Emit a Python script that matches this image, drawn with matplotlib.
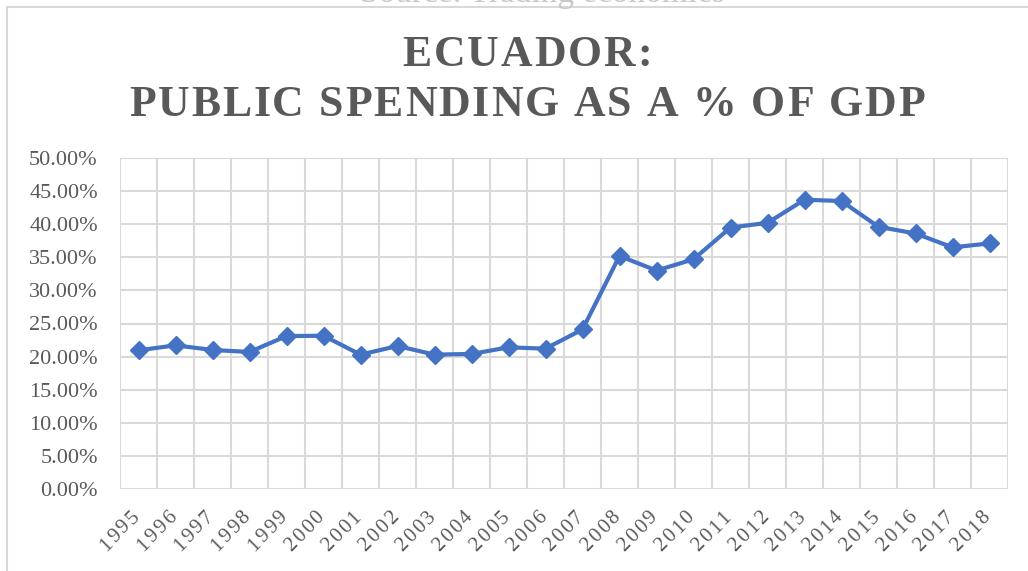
import matplotlib
matplotlib.use("Agg")
import matplotlib.pyplot as plt
import matplotlib.transforms as mtransforms
from matplotlib.patches import Rectangle

years = ["1995", "1996", "1997", "1998", "1999", "2000", "2001", "2002", "2003", "2004", "2005", "2006",
         "2007", "2008", "2009", "2010", "2011", "2012", "2013", "2014", "2015", "2016", "2017", "2018"]
spending = [0.2095, 0.217, 0.210, 0.207, 0.231, 0.2315, 0.203, 0.216, 0.203, 0.204, 0.214, 0.212,
            0.241, 0.352, 0.330, 0.347, 0.395, 0.402, 0.437, 0.435, 0.396, 0.386, 0.365, 0.371]
yticks = [0.0, 0.05, 0.10, 0.15, 0.20, 0.25, 0.30, 0.35, 0.40, 0.45, 0.50]
title_lines = ["ECUADOR:", "PUBLIC SPENDING AS A % OF GDP"]
source_text = "Source: Trading economics"

TXT = "#595959"
GRID = "#D9D9D9"
LINE = "#4472C4"
SERIF = ["Liberation Serif", "DejaVu Serif"]

fig = plt.figure(figsize=(10.28, 5.71), dpi=100)
fig.patch.set_facecolor("white")

# outer chart border
fig.patches.append(Rectangle((7 / 1028, -0.05), 1.2, 1 - 7 / 571 + 0.05, transform=fig.transFigure,
                             fill=False, edgecolor="#D9D9D9", linewidth=1.5))
# source text, partly above the top edge as in the reference
fig.text(0.528, 1 - 2 / 571, source_text, ha="center", va="baseline", fontsize=24, color="#C8C8C8",
         family=SERIF)

ax = fig.add_axes([120 / 1028, 1 - 489 / 571, (1008 - 120) / 1028, (489 - 158) / 571])
x = list(range(len(years)))
ax.plot(x, spending, color=LINE, linewidth=3.0, marker="D", markersize=9.5, zorder=3,
        solid_joinstyle="round", clip_on=False)
ax.set_xlim(-0.5, len(years) - 0.5)
ax.set_ylim(0, 0.5)
ax.set_yticks(yticks)
ax.set_yticklabels([f"{v * 100:.2f}%" for v in yticks], family=SERIF, fontsize=16, color=TXT)
ax.tick_params(axis="y", length=0, pad=16)
ax.set_xticks([i - 0.5 for i in range(len(years) + 1)])
ax.set_xticklabels([])
ax.tick_params(axis="x", length=0)
ax.grid(True, color=GRID, linewidth=1.5)
ax.set_axisbelow(True)
for s in ax.spines.values():
    s.set_visible(False)

fig.canvas.draw()
renderer = fig.canvas.get_renderer()


def text_width(s, **kw):
    t = fig.text(0, 0, s, **kw)
    w = t.get_window_extent(renderer).width
    t.remove()
    return w


# letter-spaced, rotated category labels
XFS = 15
XSP = 2.0
xkw = dict(fontsize=XFS, family=SERIF)
xbase = text_width("xx", **xkw)
trans = mtransforms.blended_transform_factory(ax.transData, ax.transAxes)
c45 = 0.7071
for i, lab in enumerate(years):
    adv = [text_width("x" + c + "x", **xkw) - xbase for c in lab]
    L = sum(adv) + XSP * (len(lab) - 1)
    sx = 1.5 - c45 * L
    sy = -(29 + c45 * L)
    d = 0.0
    for c, a in zip(lab, adv):
        off = mtransforms.offset_copy(trans, fig=fig, x=sx + c45 * d, y=sy + c45 * d, units="dots")
        ax.text(i, 0, c, transform=off, rotation=45, rotation_mode="anchor", ha="left",
                va="baseline", color=TXT, clip_on=False, **xkw)
        d += a + XSP

# letter-spaced title
TFS = 31.5
SPACING = 1.9
tkw = dict(fontsize=TFS, fontweight="bold", family=SERIF)
base = text_width("xx", **tkw)
for line, yc in zip(title_lines, [50, 100]):
    adv = [text_width("x" + c + "x", **tkw) - base for c in line]
    total = sum(adv) + SPACING * (len(line) - 1)
    xpos = 527 - total / 2
    for c, a in zip(line, adv):
        fig.text(xpos / 1028, 1 - yc / 571, c, color=TXT, ha="left", va="center_baseline", **tkw)
        xpos += a + SPACING

fig.savefig("out.png", dpi=100, facecolor="white")
